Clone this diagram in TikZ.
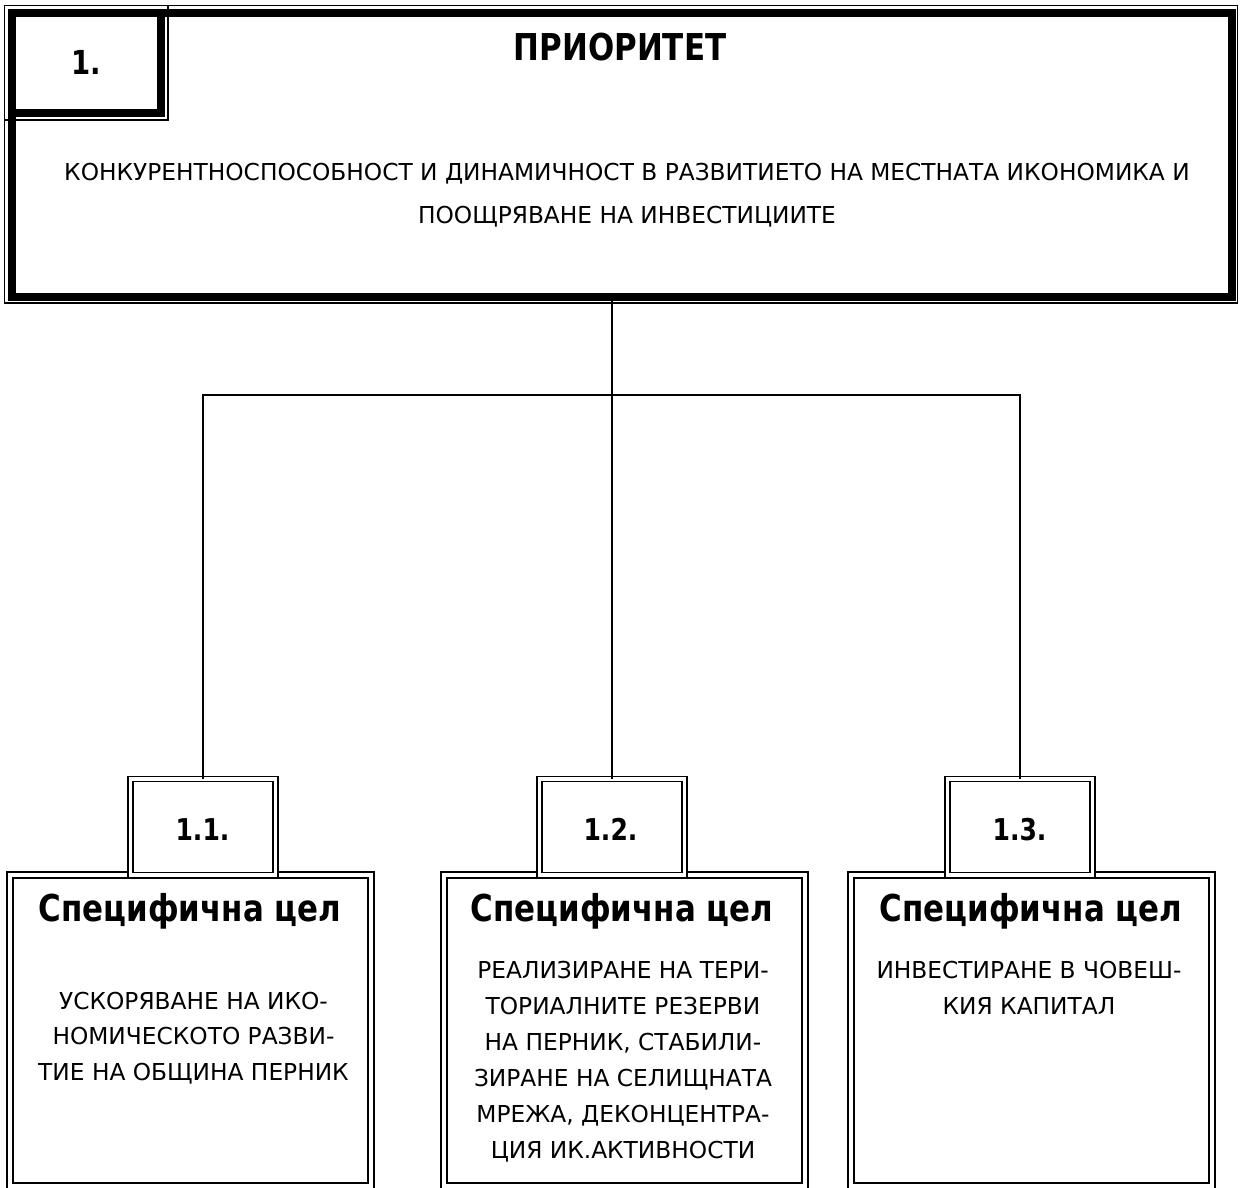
\documentclass[tikz,border=0pt]{standalone}
\usepackage{fontspec}
\setmainfont{DejaVu Sans}[BoldFeatures={FakeStretch=0.835}]
\begin{document}
\begin{tikzpicture}[x=1pt,y=-1pt,
  thickframe/.style={draw, line width=8pt, inner sep=0pt, outer sep=0pt},
  thinframe/.style={draw, line width=1.5pt},
  dblbox/.style={draw, line width=2pt, double=white, double distance=4pt, inner sep=0pt, outer sep=0pt, minimum width=361pt, minimum height=311.5pt},
  smallbox/.style={draw, line width=1.8pt, double=white, double distance=3.2pt, inner sep=0pt, outer sep=0pt, fill=white, minimum width=145pt, minimum height=96pt},
  conn/.style={line width=1.6pt},
  bodytxt/.style={inner sep=0pt, font=\fontsize{23.3}{35.5}\selectfont, align=center, anchor=base},
  maintxt/.style={inner sep=0pt, font=\fontsize{23.3}{43.5}\selectfont, align=center, anchor=base},
  titletxt/.style={inner sep=0pt, font=\fontsize{37}{44}\selectfont\bfseries, anchor=base},
  numtxt/.style={inner sep=0pt, font=\fontsize{30}{36}\selectfont\bfseries, anchor=base}
]
\useasboundingbox[fill=white] (0,0) rectangle (1240,1187);

% main priority box
\node[thickframe, minimum width=1220pt, minimum height=283.5pt] (main) at (621.5,154.75) {};
\draw[thinframe] ([xshift=-7pt,yshift=7.5pt]main.north west) rectangle ([xshift=6pt,yshift=-6.5pt]main.south east);
% number box 1.
\node[thickframe, fill=white, minimum width=149pt, minimum height=99.5pt] (n1) at (86.5,62.75) {};
\draw[thinframe] ([xshift=-7pt,yshift=-7.5pt]n1.south west) -- ([xshift=7pt,yshift=-7.5pt]n1.south east) -- ([xshift=7pt,yshift=7.5pt]n1.north east);
\node[inner sep=0pt, font=\fontsize{33}{40}\selectfont\bfseries, anchor=base] (n1t) at (86.5,74) {1.};
\node[titletxt] (prio) at (620,60) {ПРИОРИТЕТ};
\node[maintxt] (maintext) at (627,223.5) {КОНКУРЕНТНОСПОСОБНОСТ И ДИНАМИЧНОСТ В РАЗВИТИЕТО НА МЕСТНАТА ИКОНОМИКА И\\ПООЩРЯВАНЕ НА ИНВЕСТИЦИИТЕ};

% bottom boxes
\node[dblbox] (b1) at (190.25,1030.25) {};
\node[dblbox] (b2) at (624,1030.25) {};
\node[dblbox] (b3) at (1031.5,1030.25) {};

% small number boxes
\node[smallbox] (s1) at (203,827) {};
\node[smallbox] (s2) at (612,827) {};
\node[smallbox] (s3) at (1020,827) {};
\node[numtxt] (s1t) at (202.5,840) {1.1.};
\node[numtxt] (s2t) at (610.5,840) {1.2.};
\node[numtxt] (s3t) at (1019.5,840) {1.3.};

% connectors
\coordinate (hb) at (612,395);
\draw[conn] (s2.north |- main.south) -- (s2.north);
\draw[conn] (s1.north) -- (s1.north |- hb) -- (s3.north |- hb) -- (s3.north);

% titles in bottom boxes
\node[titletxt] (c1) at (190,921.5) {Специфична цел};
\node[titletxt] (c2) at (622,921.5) {Специфична цел};
\node[titletxt] (c3) at (1031,921.5) {Специфична цел};

\node[bodytxt] (d1) at (193.5,1080) {УСКОРЯВАНЕ НА ИКО-\\НОМИЧЕСКОТО РАЗВИ-\\ТИЕ НА ОБЩИНА ПЕРНИК};
\node[bodytxt, font=\fontsize{23.3}{36}\selectfont] (d2) at (623,1158.5) {РЕАЛИЗИРАНЕ НА ТЕРИ-\\ТОРИАЛНИТЕ РЕЗЕРВИ\\НА ПЕРНИК, СТАБИЛИ-\\ЗИРАНЕ НА СЕЛИЩНАТА\\МРЕЖА, ДЕКОНЦЕНТРА-\\ЦИЯ ИК.АКТИВНОСТИ};
\node[bodytxt, font=\fontsize{23.3}{36}\selectfont] (d3) at (1029,1014.5) {ИНВЕСТИРАНЕ В ЧОВЕШ-\\КИЯ КАПИТАЛ};
\end{tikzpicture}
\end{document}
